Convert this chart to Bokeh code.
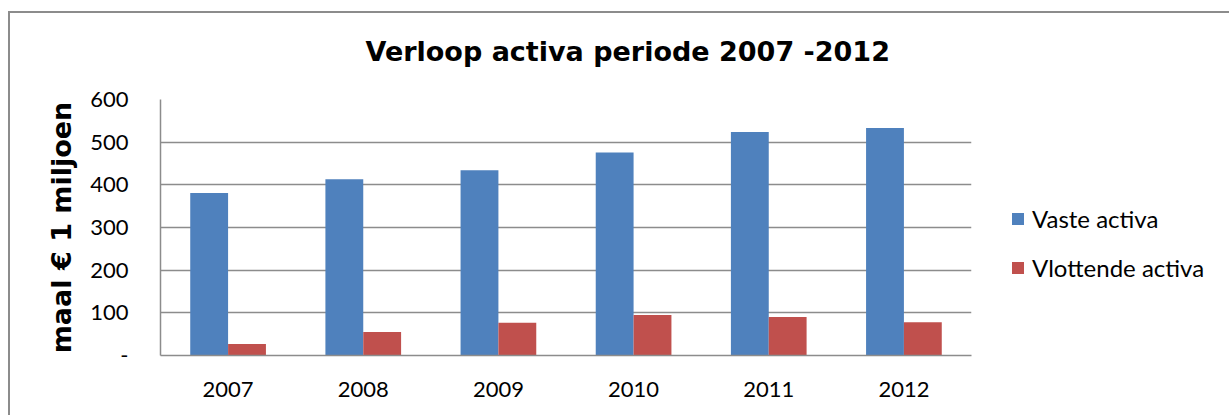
from bokeh.plotting import figure
from bokeh.models import (Range1d, FactorRange, FixedTicker, Legend, LegendItem,
                          ColumnDataSource, Title)
from bokeh.transform import dodge
from bokeh.embed import file_html
from bokeh.resources import INLINE

# ---- data ----
years = ["2007", "2008", "2009", "2010", "2011", "2012"]
vaste_activa = [381, 413, 434, 476, 524, 533]
vlottende_activa = [27, 55, 77, 95, 90, 78]
y_ticks = [0, 100, 200, 300, 400, 500, 600]
series_names = ["Vaste activa", "Vlottende activa"]
title_text = "Verloop activa periode 2007 -2012"
y_label = "maal \u20ac 1 miljoen"

colors = ["#4F81BD", "#C0504D"]
grid_color = "#8c8c8c"
tick_font = "Lato"

src = ColumnDataSource(dict(year=years, vaste=vaste_activa, vlottende=vlottende_activa))

p = figure(frame_width=811, frame_height=256,
           x_range=FactorRange(*years), y_range=Range1d(0, 600),
           output_backend="svg", toolbar_location=None,
           min_border_left=160, min_border_right=250,
           min_border_top=99, min_border_bottom=60)
p.outline_line_color = None
p.background_fill_color = "white"
p.border_fill_alpha = 0

r1 = p.vbar(x=dodge("year", -0.14, range=p.x_range), top="vaste", width=0.28,
            source=src, fill_color=colors[0], line_color=None)
r2 = p.vbar(x=dodge("year", 0.14, range=p.x_range), top="vlottende", width=0.28,
            source=src, fill_color=colors[1], line_color=None)

# grid
p.xgrid.grid_line_color = None
p.ygrid.grid_line_color = grid_color
p.ygrid.grid_line_width = 1.5
p.yaxis.ticker = FixedTicker(ticks=y_ticks)
p.ygrid.ticker = FixedTicker(ticks=y_ticks)

# y axis
p.yaxis.major_label_overrides = {0: "-"}
p.yaxis.axis_line_color = grid_color
p.yaxis.axis_line_width = 1.5
p.yaxis.major_tick_line_color = None
p.yaxis.minor_tick_line_color = None
p.yaxis.major_tick_out = 0
p.yaxis.major_tick_in = 0
p.yaxis.major_label_standoff = 32
p.yaxis.major_label_text_font = tick_font
p.yaxis.major_label_text_font_size = "22px"
p.yaxis.major_label_text_color = "black"
p.yaxis.axis_label = y_label
p.yaxis.axis_label_text_font = "DejaVu Sans"
p.yaxis.axis_label_text_font_style = "bold"
p.yaxis.axis_label_text_font_size = "27px"
p.yaxis.axis_label_text_color = "black"
p.yaxis.axis_label_standoff = 10

# x axis
p.xaxis.axis_line_color = grid_color
p.xaxis.axis_line_width = 1.5
p.xaxis.major_tick_line_color = None
p.xaxis.major_tick_out = 0
p.xaxis.major_tick_in = 0
p.xaxis.major_label_standoff = 26
p.xaxis.major_label_text_font = tick_font
p.xaxis.major_label_text_font_size = "22px"
p.xaxis.major_label_text_color = "black"

# title
p.title = Title(text=title_text, align="left", offset=205, standoff=66,
                text_font="DejaVu Sans", text_font_style="bold",
                text_font_size="27px", text_color="black")

# legend
legend = Legend(items=[LegendItem(label=series_names[0], renderers=[r1]),
                       LegendItem(label=series_names[1], renderers=[r2])],
                location=(39, 73), orientation="vertical",
                padding=0, margin=0, border_line_color=None,
                background_fill_alpha=0, glyph_width=15, glyph_height=15,
                label_standoff=7, spacing=20, label_height=29,
                label_text_font=tick_font, label_text_font_size="24px",
                label_text_color="black")
p.add_layout(legend, "right")

# outer chart border (top and left edges), drawn behind the transparent canvas
p.styles = {
    "background-color": "white",
    "background-image": "linear-gradient(#8c8c8c, #8c8c8c), linear-gradient(#8c8c8c, #8c8c8c)",
    "background-size": "2px 100%, 100% 2px",
    "background-position": "8px 11px, 8px 11px",
    "background-repeat": "no-repeat",
}

open("out.html", "w").write(file_html(p, INLINE))
